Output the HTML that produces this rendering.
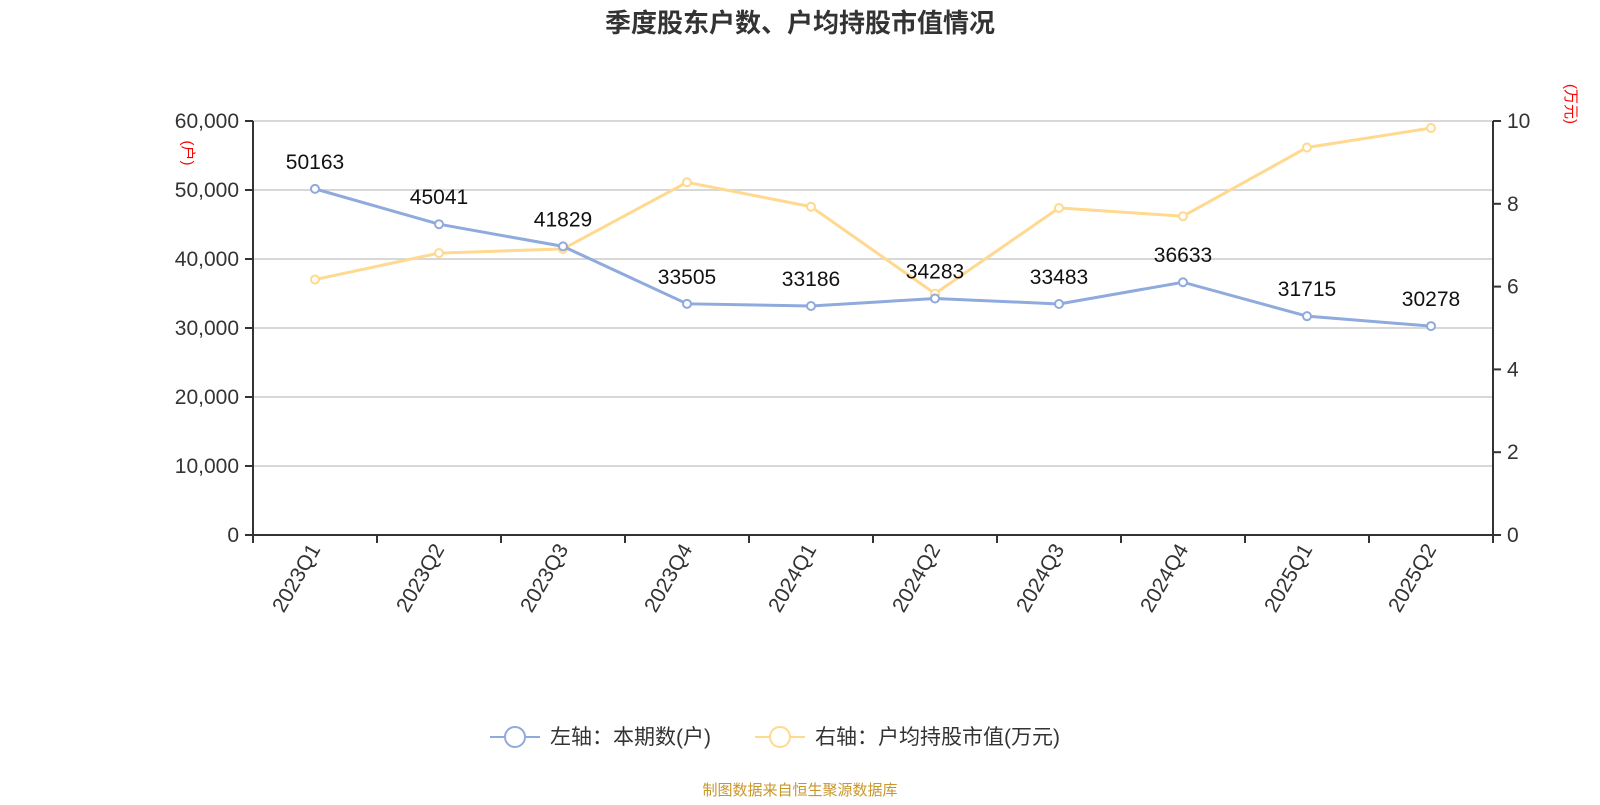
<!DOCTYPE html>
<html><head><meta charset="utf-8"><style>
body{margin:0;background:#fff;font-family:"Liberation Sans","Noto Sans CJK SC",sans-serif}
</style></head><body>
<svg width="1600" height="800" xmlns="http://www.w3.org/2000/svg" id="chart" font-family="Liberation Sans, Noto Sans CJK SC, sans-serif">
<text x="800" y="32" text-anchor="middle" font-size="26" font-weight="bold" fill="#333">季度股东户数、户均持股市值情况</text>
<g id="grid"></g><g id="axes"></g><g id="series"></g>
<text transform="translate(183,153) rotate(90)" text-anchor="middle" font-size="15" fill="#f00">(户)</text>
<text transform="translate(1566,104) rotate(90)" text-anchor="middle" font-size="15" fill="#f00">(万元)</text>
<g>
<g><line x1="490" y1="737" x2="540" y2="737" stroke="#8faadc" stroke-width="2"/><circle cx="515" cy="737" r="10" fill="#fff" stroke="#8faadc" stroke-width="2"/><text x="550" y="744" font-size="21" fill="#333">左轴：本期数(户)</text></g>
<g><line x1="755" y1="737" x2="805" y2="737" stroke="#ffd98f" stroke-width="2"/><circle cx="780" cy="737" r="10" fill="#fff" stroke="#ffd98f" stroke-width="2"/><text x="815" y="744" font-size="21" fill="#333">右轴：户均持股市值(万元)</text></g>
</g>
<text x="800" y="795" text-anchor="middle" font-size="15" fill="#c9962a">制图数据来自恒生聚源数据库</text>
</svg>
<script>
const categories=["2023Q1","2023Q2","2023Q3","2023Q4","2024Q1","2024Q2","2024Q3","2024Q4","2025Q1","2025Q2"];
const households=[50163,45041,41829,33505,33186,34283,33483,36633,31715,30278];
const avgValue=[6.17,6.81,6.91,8.52,7.93,5.83,7.90,7.70,9.36,9.83];
const leftTicks=[0,10000,20000,30000,40000,50000,60000];
const rightTicks=[0,2,4,6,8,10];
const NS="http://www.w3.org/2000/svg";
const L=253,R=1493,T=121,B=535;
const bw=(R-L)/categories.length;
const xs=i=>L+bw*(i+0.5);
const yl=v=>B-(v/60000)*(B-T);
const yr=v=>B-(v/10)*(B-T);
function mk(tag,attrs,parent,text){const e=document.createElementNS(NS,tag);for(const k in attrs)e.setAttribute(k,attrs[k]);if(text!==undefined)e.textContent=text;parent.appendChild(e);return e;}
const grid=document.getElementById('grid'),axes=document.getElementById('axes'),ser=document.getElementById('series');
leftTicks.forEach(v=>{
 const y=yl(v);
 if(v>0){const g=mk('line',{x1:L,x2:R,y1:y,y2:y,stroke:'#ccc','stroke-width':1.5},grid);}
 mk('line',{x1:L-8,x2:L,y1:y,y2:y,stroke:'#333','stroke-width':2},axes);
 const t=mk('text',{x:L-14,y:y+7,'text-anchor':'end','font-size':21,fill:'#333'},axes,v.toLocaleString('en-US'));
 
 
});
rightTicks.forEach(v=>{
 const y=yr(v);
 mk('line',{x1:R,x2:R+8,y1:y,y2:y,stroke:'#333','stroke-width':2},axes);
 const t=mk('text',{x:R+14,y:y+7,'font-size':21,fill:'#333'},axes,String(v));
 
 
});
mk('line',{x1:L,x2:L,y1:T,y2:B,stroke:'#333','stroke-width':2},axes);
mk('line',{x1:R,x2:R,y1:T,y2:B+8,stroke:'#333','stroke-width':2},axes);
mk('line',{x1:L,x2:R,y1:B,y2:B,stroke:'#333','stroke-width':2},axes);
for(let i=0;i<=categories.length;i++){const x=L+bw*i;mk('line',{x1:x,x2:x,y1:B,y2:B+8,stroke:'#333','stroke-width':2},axes);}
categories.forEach((c,i)=>{
 const x=xs(i);
 const t=mk('text',{transform:`translate(${x+6},${B+14}) rotate(-60)`,'text-anchor':'end','font-size':21,fill:'#333'},axes,c);
 
 
});
function line(vals,yf,color,name,labels){
 const p=mk('polyline',{points:vals.map((v,i)=>xs(i)+','+yf(v)).join(' '),fill:'none',stroke:color,'stroke-width':3},ser);
 
 
 vals.forEach((v,i)=>{
  const c=mk('circle',{cx:xs(i),cy:yf(v),r:4,fill:'#fff',stroke:color,'stroke-width':2},ser);
  
  
  if(labels){const t=mk('text',{x:xs(i),y:yf(v)-20,'text-anchor':'middle','font-size':21,fill:'#111'},ser,String(v));
  
  }
 });
}
line(avgValue,yr,'#ffd98f','avg-value',false);
line(households,yl,'#8faadc','households',true);
</script>
</body></html>
